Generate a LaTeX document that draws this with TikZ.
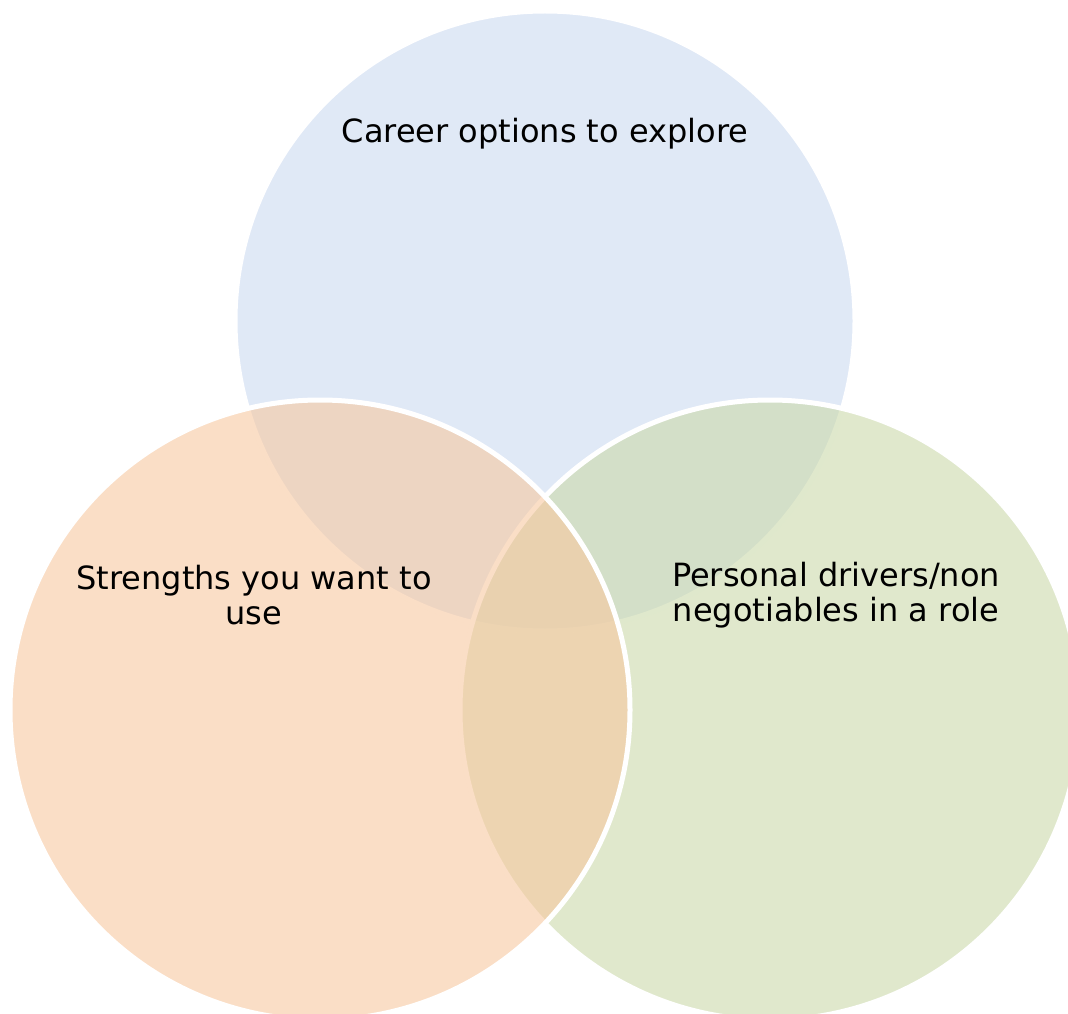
\documentclass[tikz,border=0pt]{standalone}
\usepackage{fontspec}
\setmainfont{DejaVu Sans}
\definecolor{careerblue}{RGB}{203,218,240}
\definecolor{strengthpeach}{RGB}{247,200,160}
\definecolor{drivergreen}{RGB}{203,217,170}
\tikzset{
  venn/.style={circle, draw=white, line width=5pt, fill opacity=0.6,
    inner sep=0pt, minimum size=620pt},
  label text/.style={align=center, inner sep=0pt,
    font=\fontsize{32}{35}\selectfont}
}
\begin{document}
\begin{tikzpicture}[x=1pt, y=-1pt]
        \useasboundingbox (0,0) rectangle (1068,1014);
        \clip (0,0) rectangle (1068,1014);
        % circles
        \node [venn, fill=careerblue] (career) at (545,321) {};
        \node [venn, fill=drivergreen] (drivers) at (770,710) {};
        \node [venn, fill=strengthpeach] (strengths) at (320,710) {};
        % labels
        \node [label text] (careertext) at (545,134) {Career options to explore};
        \node [label text] (strengthstext) at (254,595) {Strengths you want to\\use};
        \node [label text] (driverstext) at (836,595) {Personal drivers/non\\negotiables in a role};
    \end{tikzpicture}
\end{document}
